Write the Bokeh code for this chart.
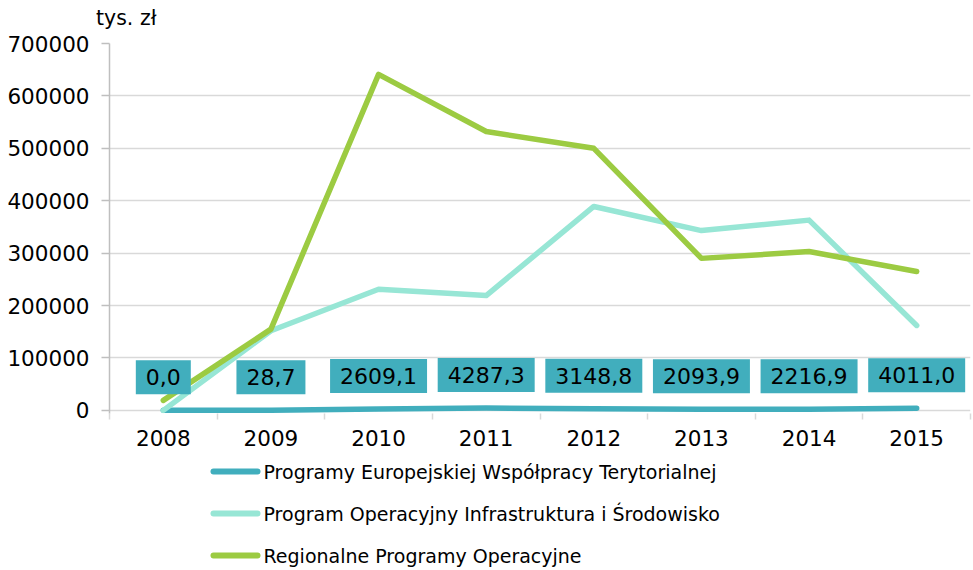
from bokeh.plotting import figure
from bokeh.layouts import column
from bokeh.models import FixedTicker, Range1d, Div
from bokeh.core.properties import value
from bokeh.embed import file_html
from bokeh.resources import INLINE

years = ["2008", "2009", "2010", "2011", "2012", "2013", "2014", "2015"]
series_names = [
    "Programy Europejskiej Współpracy Terytorialnej",
    "Program Operacyjny Infrastruktura i Środowisko",
    "Regionalne Programy Operacyjne",
]
ewt = [0.0, 28.7, 2609.1, 4287.3, 3148.8, 2093.9, 2216.9, 4011.0]
pois = [0, 152000, 231000, 219000, 389000, 343000, 363000, 162000]
rpo = [19000, 155000, 641000, 532000, 500000, 290000, 303000, 265000]
y_ticks = [0, 100000, 200000, 300000, 400000, 500000, 600000, 700000]
unit_label = "tys. zł"

colors = ["#41AEBD", "#97E6D5", "#9CCB42"]
FONT = "DejaVu Sans"
GRID = "#D9D9D9"
LEFT, RIGHT, W = 109, 3, 973
HEAD_H = 30

xs = [i + 0.5 for i in range(len(years))]
ewt_labels = [f"{v:.1f}".replace(".", ",") for v in ewt]

head = Div(text=unit_label, width=W, height=HEAD_H, margin=0,
           styles={"font-family": FONT, "font-size": "20.5px", "color": "black",
                   "padding-left": "96px", "padding-top": "8px", "line-height": "20px",
                   "box-sizing": "border-box"})

p = figure(width=W, height=455 - HEAD_H, output_backend="svg", toolbar_location=None,
           x_range=Range1d(0, len(years)), y_range=Range1d(-6000, y_ticks[-1]),
           min_border_left=LEFT, min_border_right=RIGHT, min_border_top=43 - HEAD_H,
           min_border_bottom=42)
p.outline_line_color = None
p.background_fill_color = "white"

# grid
p.xgrid.visible = False
p.ygrid.ticker = FixedTicker(ticks=y_ticks)
p.ygrid.grid_line_color = GRID
p.ygrid.grid_line_width = 1.5

# y axis
p.yaxis.ticker = FixedTicker(ticks=y_ticks)
p.yaxis.major_label_overrides = {t: str(t) for t in y_ticks}
p.yaxis.axis_line_color = "#BFBFBF"
p.yaxis.axis_line_width = 1.5
p.yaxis.major_tick_line_color = "#BFBFBF"
p.yaxis.major_tick_line_width = 1.5
p.yaxis.major_tick_out = 8
p.yaxis.major_tick_in = 0
p.yaxis.minor_tick_line_color = None
p.yaxis.major_label_text_font = FONT
p.yaxis.major_label_text_font_size = "21.5px"
p.yaxis.major_label_text_color = "black"
p.yaxis.major_label_standoff = 12

# x axis
p.xaxis.ticker = FixedTicker(ticks=xs, minor_ticks=list(range(len(years) + 1)))
p.xaxis.major_label_overrides = {x: y for x, y in zip(xs, years)}
p.xaxis.axis_line_color = None
p.xaxis.major_tick_line_color = None
p.xaxis.major_tick_out = 0
p.xaxis.major_tick_in = 0
p.xaxis.minor_tick_line_color = GRID
p.xaxis.minor_tick_line_width = 1.5
p.xaxis.minor_tick_out = 6
p.xaxis.minor_tick_in = 0
p.xaxis.major_label_text_font = FONT
p.xaxis.major_label_text_font_size = "21.5px"
p.xaxis.major_label_text_color = "black"
p.xaxis.major_label_standoff = 10

for data, c in zip([ewt, pois, rpo], colors):
    p.line(xs, data, line_color=c, line_width=5.5, line_cap="round", line_join="round")

p.text(x=xs, y=ewt, text=ewt_labels, text_font=value(FONT), text_font_size="22px",
       text_color="black", text_align="center", text_baseline="middle", y_offset=-33,
       background_fill_color=colors[0],
       padding=dict(left=10, right=10, top=9, bottom=9))

# legend panel (pixel units inside its frame)
LG_H = 115
frame_w = W - LEFT - RIGHT
lg = figure(width=W, height=LG_H, output_backend="svg", toolbar_location=None,
            x_range=Range1d(0, frame_w), y_range=Range1d(0, LG_H),
            min_border_left=LEFT, min_border_right=RIGHT, min_border_top=0, min_border_bottom=0)
lg.axis.visible = False
lg.grid.visible = False
lg.outline_line_color = None
row_y = [LG_H - 16 - 42 * i for i in range(len(series_names))]
lg.segment(x0=[104] * 3, x1=[148] * 3, y0=row_y, y1=row_y, line_color=colors,
           line_width=6, line_cap="round")
lg.text(x=[154] * 3, y=row_y, text=series_names, text_font=value(FONT),
        text_font_size="19px", text_color="black", text_align="left",
        text_baseline="middle")

layout = column(head, p, lg, spacing=0)
open("out.html", "w").write(file_html(layout, INLINE))
